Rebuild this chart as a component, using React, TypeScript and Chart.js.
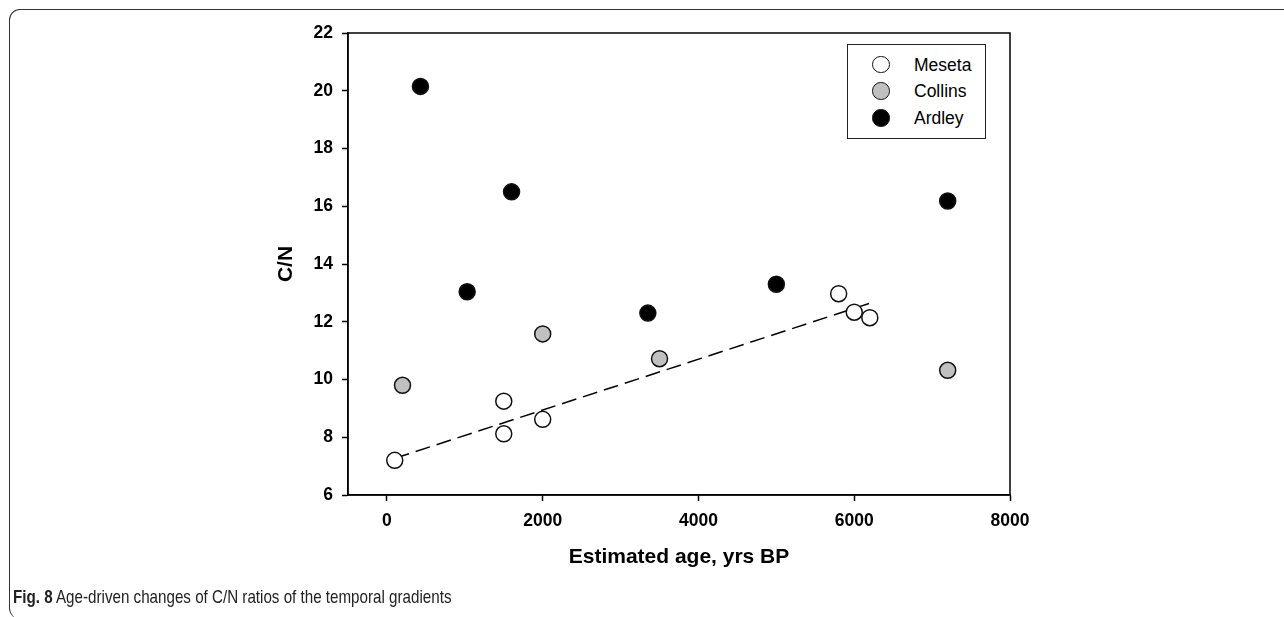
import React, { useEffect, useRef } from "react";
import { Chart, registerables } from "chart.js";

Chart.register(...registerables);

// ---- data ----
const mesetaAge = [100, 1500, 1500, 2000, 5800, 6000, 6200];
const mesetaCN = [7.2, 9.25, 8.12, 8.62, 12.97, 12.33, 12.14];
const collinsAge = [200, 2000, 3500, 7200];
const collinsCN = [9.8, 11.58, 10.72, 10.32];
const ardleyAge = [430, 1030, 1600, 3350, 5000, 7200];
const ardleyCN = [20.15, 13.04, 16.5, 12.3, 13.3, 16.18];
const fitAge = [100, 6200];
const fitCN = [7.27, 12.64];
const xTicks = [0, 2000, 4000, 6000, 8000];
const yTicks = [6, 8, 10, 12, 14, 16, 18, 20, 22];

const seriesNames = ["Meseta", "Collins", "Ardley"];
const seriesFill = ["#ffffff", "#c0c0c0", "#000000"];

const FONT = "'Liberation Sans', Arial, sans-serif";

const toPts = (xs: number[], ys: number[]) => xs.map((x, i) => ({ x, y: ys[i] }));

const boxPlugin = {
  id: "plotBox",
  beforeDatasetsDraw(chart: any) {
    const { ctx, chartArea } = chart;
    ctx.save();
    ctx.strokeStyle = "#000";
    ctx.lineWidth = 1.5;
    ctx.strokeRect(chartArea.left, chartArea.top, chartArea.right - chartArea.left, chartArea.bottom - chartArea.top);
    ctx.restore();
  },
};

export default function App() {
  const ref = useRef<HTMLCanvasElement | null>(null);

  useEffect(() => {
    if (!ref.current) return;
    const pointStyle = (i: number) => ({
      pointRadius: 8,
      pointHoverRadius: 8,
      pointBorderWidth: 1.5,
      pointBorderColor: "#111",
      pointBackgroundColor: seriesFill[i],
      borderColor: "#111",
      backgroundColor: seriesFill[i],
    });
    const chart = new Chart(ref.current, {
      type: "scatter",
      data: {
        datasets: [
          { label: seriesNames[0], data: toPts(mesetaAge, mesetaCN), ...pointStyle(0) },
          { label: seriesNames[1], data: toPts(collinsAge, collinsCN), ...pointStyle(1) },
          { label: seriesNames[2], data: toPts(ardleyAge, ardleyCN), ...pointStyle(2) },
          {
            label: "fit",
            data: toPts(fitAge, fitCN),
            showLine: true,
            borderColor: "#000",
            borderWidth: 1.5,
            borderDash: [15, 7],
            pointRadius: 0,
            pointHoverRadius: 0,
            fill: false,
          } as any,
        ],
      },
      options: {
        animation: false,
        responsive: false,
        maintainAspectRatio: false,
        devicePixelRatio: 1,
        layout: { padding: { left: 270, right: 274, top: 33, bottom: 43 } },
        plugins: { legend: { display: false }, tooltip: { enabled: false } },
        scales: {
          x: {
            type: "linear",
            min: -500,
            max: 8000,
            afterBuildTicks: (s: any) => {
              s.ticks = xTicks.map((v) => ({ value: v }));
            },
            afterFit: (s: any) => {
              s.height = 79;
            },
            ticks: {
              color: "#000",
              font: { family: FONT, size: 17.5, weight: "bold" },
              padding: 10,
              maxRotation: 0,
              callback: (v: any) => String(v),
            },
            grid: { drawOnChartArea: false, drawTicks: true, tickLength: 6, tickColor: "#000", tickWidth: 1.5 },
            border: { display: true, color: "#000", width: 1.5 },
            title: {
              display: true,
              text: "Estimated age, yrs BP",
              color: "#000",
              font: { family: FONT, size: 21, weight: "bold" },
              padding: 4,
            },
          },
          y: {
            type: "linear",
            min: 6,
            max: 22,
            afterBuildTicks: (s: any) => {
              s.ticks = yTicks.map((v) => ({ value: v }));
            },
            afterFit: (s: any) => {
              s.width = 78;
            },
            ticks: { color: "#000", font: { family: FONT, size: 17.5, weight: "bold" }, padding: 9 },
            grid: { drawOnChartArea: false, drawTicks: true, tickLength: 6, tickColor: "#000", tickWidth: 1.5 },
            border: { display: true, color: "#000", width: 1.5 },
            title: {
              display: true,
              text: "C/N",
              color: "#000",
              font: { family: FONT, size: 21, weight: "bold" },
              padding: 4,
            },
          },
        },
      },
      plugins: [boxPlugin],
    });
    return () => chart.destroy();
  }, []);

  const legendRows = [21, 47.7, 74.3];

  return (
    <div style={{ position: "absolute", left: 0, top: 0, width: 1284, height: 617, overflow: "hidden", background: "#fff" }}>
      <div
        style={{
          position: "absolute",
          left: 9,
          top: 9,
          width: 1320,
          height: 610,
          borderTop: "1.5px solid #333",
          borderLeft: "1.5px solid #333",
          borderTopLeftRadius: 11,
          borderBottomLeftRadius: 11,
          boxSizing: "border-box",
        }}
      />
      <canvas ref={ref} width={1284} height={617} style={{ position: "absolute", left: 0, top: 0, width: 1284, height: 617 }} />
      <div
        style={{
          position: "absolute",
          left: 847,
          top: 44,
          width: 139,
          height: 95,
          border: "1.5px solid #222",
          boxSizing: "border-box",
          background: "#fff",
        }}
      >
        {seriesNames.map((name, i) => (
          <React.Fragment key={name}>
            <div
              style={{
                position: "absolute",
                left: 34.7 - 8.75 - 1.5,
                top: legendRows[i] - 8.75 - 1.5,
                width: 17.5,
                height: 17.5,
                borderRadius: "50%",
                border: "1.5px solid #111",
                background: seriesFill[i],
                boxSizing: "border-box",
              }}
            />
            <div
              style={{
                position: "absolute",
                left: 66,
                top: legendRows[i] - 12 - 1.5,
                height: 24,
                lineHeight: "24px",
                fontFamily: FONT,
                fontSize: 17.5,
                color: "#000",
                whiteSpace: "nowrap",
              }}
            >
              {name}
            </div>
          </React.Fragment>
        ))}
      </div>
      <div
        style={{
          position: "absolute",
          left: 13,
          top: 587,
          lineHeight: "20px",
          fontFamily: FONT,
          fontSize: 18.5,
          color: "#222",
          whiteSpace: "nowrap",
          transform: "scaleX(0.82)",
          transformOrigin: "left center",
        }}
      >
        <b>Fig. 8</b> Age-driven changes of C/N ratios of the temporal gradients
      </div>
    </div>
  );
}
